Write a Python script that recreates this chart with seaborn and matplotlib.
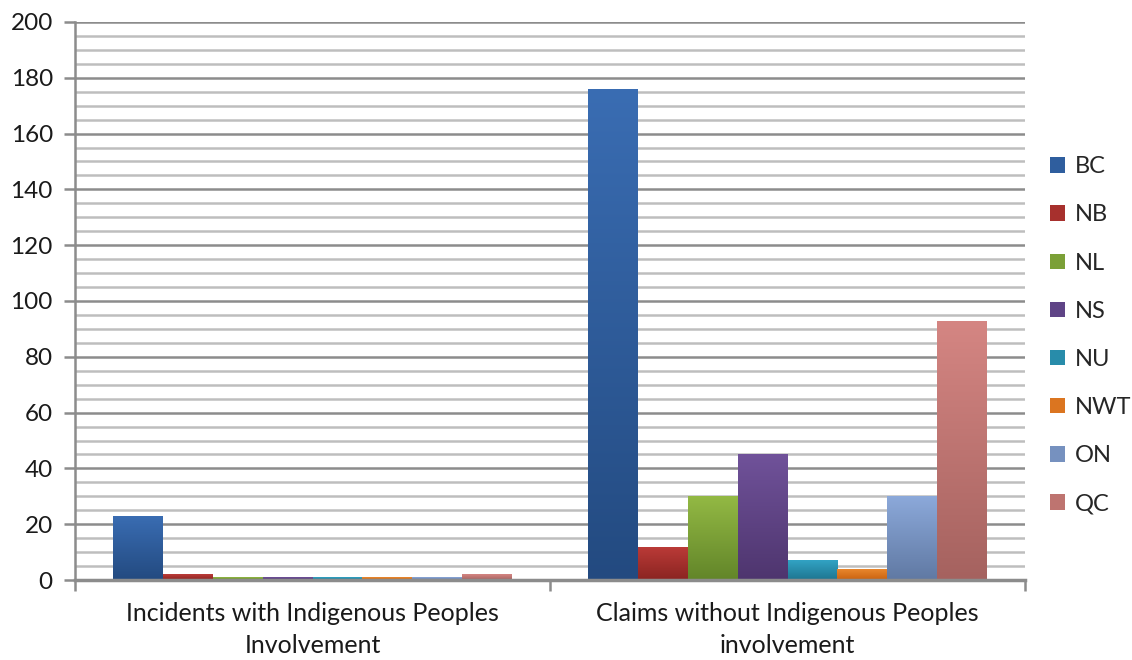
import numpy as np
import pandas as pd
import matplotlib
matplotlib.use("Agg")
import matplotlib.pyplot as plt
from matplotlib.patches import Patch
from matplotlib.colors import LinearSegmentedColormap
import seaborn as sns

categories = ["Incidents with Indigenous Peoples\nInvolvement",
              "Claims without Indigenous Peoples\ninvolvement"]
provinces = ["BC", "NB", "NL", "NS", "NU", "NWT", "ON", "QC"]
incidents_with = [23, 2, 1, 1, 1, 1, 1, 2]
claims_without = [176, 12, 30, 45, 7, 4, 30, 93]

top_colors = ["#3A6DB3", "#BC3B38", "#93B944", "#70529A", "#32A3C4", "#EC8A30", "#8CA9DA", "#D58683"]
bot_colors = ["#234A80", "#8A2421", "#628529", "#4E356E", "#1E7590", "#C9620F", "#6079A3", "#A5625F"]
mid_colors = ["#2F5E9E", "#A7302D", "#7BA037", "#5F4486", "#288CAA", "#DB7520", "#7691BF", "#BE7470"]

df = pd.DataFrame({
    "category": [categories[0]] * len(provinces) + [categories[1]] * len(provinces),
    "province": provinces * 2,
    "value": incidents_with + claims_without,
})

sns.set_theme(style="white")
plt.rcParams["font.family"] = ["Lato", "DejaVu Sans"]

fig = plt.figure(figsize=(11.32, 6.6), dpi=100)
ax = fig.add_axes([0.0663, 0.1212, 0.9055 - 0.0663, 0.9667 - 0.1212])

sns.barplot(data=df, x="category", y="value", hue="province", hue_order=provinces,
            palette=mid_colors, width=0.84, ax=ax, legend=False, saturation=1,
            linewidth=0, zorder=3)

ax.set_ylim(0, 200)
ax.set_xlim(-0.5, 1.5)

# gridlines
for v in range(5, 200, 5):
    if v % 20 == 0:
        ax.axhline(v, color="#8C8C8C", lw=1.8, zorder=1)
    else:
        ax.axhline(v, color="#BEBEBE", lw=1.8, zorder=1)
ax.axhline(200, color="#8C8C8C", lw=1.8, zorder=1)

# gradients on bars
bars = [p for p in ax.patches]
for i, p in enumerate(bars):
    h_idx = i // 2
    cmap = LinearSegmentedColormap.from_list("g", [bot_colors[h_idx], top_colors[h_idx]])
    x0, y0 = p.get_x(), p.get_y()
    w, h = p.get_width(), p.get_height()
    if h <= 0:
        continue
    grad = np.linspace(0, 1, 256).reshape(-1, 1)
    im = ax.imshow(grad, cmap=cmap, origin="lower", aspect="auto",
                   extent=[x0, x0 + w, y0, y0 + h], zorder=4)
    im.set_clip_path(p)
ax.set_xlim(-0.5, 1.5)
ax.set_ylim(0, 200)

ax.set_yticks(range(0, 201, 20))
ax.set_xticks([-0.5, 0.5, 1.5], minor=True)
ax.tick_params(axis="x", which="minor", length=8, width=1.8, color="#8C8C8C", bottom=True)
ax.tick_params(axis="x", which="major", length=0, labelsize=18, pad=16, labelcolor="#1a1a1a")
ax.tick_params(axis="y", length=8, width=1.8, color="#8C8C8C", left=True, labelsize=17.5, pad=8,
               labelcolor="#1a1a1a")
ax.set_xlabel("")
ax.set_ylabel("")
for lbl in ax.get_xticklabels():
    lbl.set_linespacing(1.45)

for s in ["top", "right"]:
    ax.spines[s].set_visible(False)
ax.spines["left"].set_color("#8C8C8C")
ax.spines["left"].set_linewidth(1.8)
ax.spines["bottom"].set_color("#8C8C8C")
ax.spines["bottom"].set_linewidth(2.5)
ax.spines["bottom"].set_zorder(6)

handles = [Patch(facecolor=c, edgecolor="none") for c in mid_colors]
fig.legend(handles, provinces, loc="center left", bbox_to_anchor=(0.9175, 0.492),
           frameon=False, fontsize=17, handlelength=0.62, handleheight=0.62,
           handletextpad=0.4, labelspacing=1.15, borderpad=0)

fig.savefig("out.png", dpi=100, facecolor="white")
